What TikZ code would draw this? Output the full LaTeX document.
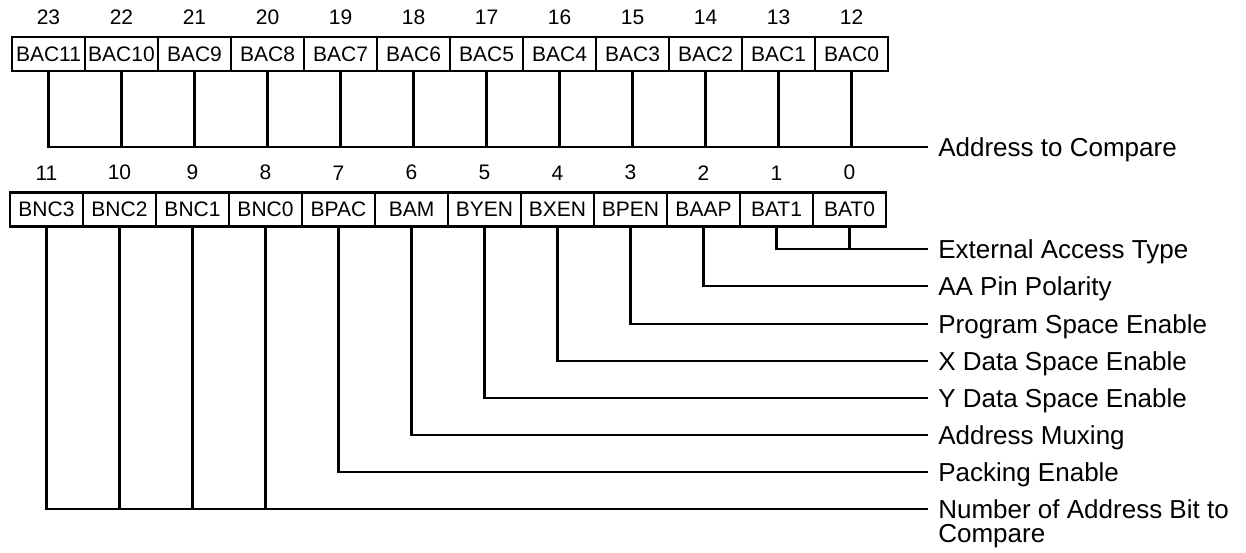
\documentclass[tikz,border=0pt]{standalone}
\usepackage{fontspec}
\setmainfont{Liberation Sans}
\usetikzlibrary{positioning}

\begin{document}
\begin{tikzpicture}[x=0.5pt, y=-0.5pt, line width=1.3pt, label distance=5.5pt,
		bitbox/.style={rectangle, draw, outer sep=0pt, inner sep=0pt, minimum width=36.5pt, minimum height=17pt, font=\fontsize{10.5}{12}\selectfont},
		bitnum/.style={inner sep=0pt, font=\fontsize{10.5}{12}\selectfont},
		sidelabel/.style={anchor=west, inner xsep=4.5pt, inner ysep=0pt, text height=9.4pt, text depth=0pt, font=\fontsize{13}{15}\selectfont}]
		\useasboundingbox (0,0) rectangle (1246,552);
		\node (b23) [bitbox, label={[bitnum]above:23}] at (48.5,54) {BAC11};
		\node (b22) [bitbox, right=0pt of b23, label={[bitnum]above:22}] {BAC10};
		\node (b21) [bitbox, right=0pt of b22, label={[bitnum]above:21}] {BAC9};
		\node (b20) [bitbox, right=0pt of b21, label={[bitnum]above:20}] {BAC8};
		\node (b19) [bitbox, right=0pt of b20, label={[bitnum]above:19}] {BAC7};
		\node (b18) [bitbox, right=0pt of b19, label={[bitnum]above:18}] {BAC6};
		\node (b17) [bitbox, right=0pt of b18, label={[bitnum]above:17}] {BAC5};
		\node (b16) [bitbox, right=0pt of b17, label={[bitnum]above:16}] {BAC4};
		\node (b15) [bitbox, right=0pt of b16, label={[bitnum]above:15}] {BAC3};
		\node (b14) [bitbox, right=0pt of b15, label={[bitnum]above:14}] {BAC2};
		\node (b13) [bitbox, right=0pt of b14, label={[bitnum]above:13}] {BAC1};
		\node (b12) [bitbox, right=0pt of b13, label={[bitnum]above:12}] {BAC0};
		
		\node (b11) [bitbox, label={[bitnum]above:11}] at (46.5,209.5) {BNC3};
		\node (b10) [bitbox, right=0pt of b11, label={[bitnum]above:10}] {BNC2};
		\node (b9) [bitbox, right=0pt of b10, label={[bitnum]above:9}] {BNC1};
		\node (b8) [bitbox, right=0pt of b9, label={[bitnum]above:8}] {BNC0};
		\node (b7) [bitbox, right=0pt of b8, label={[bitnum]above:7}] {BPAC};
		\node (b6) [bitbox, right=0pt of b7, label={[bitnum]above:6}] {BAM};
		\node (b5) [bitbox, right=0pt of b6, label={[bitnum]above:5}] {BYEN};
		\node (b4) [bitbox, right=0pt of b5, label={[bitnum]above:4}] {BXEN};
		\node (b3) [bitbox, right=0pt of b4, label={[bitnum]above:3}] {BPEN};
		\node (b2) [bitbox, right=0pt of b3, label={[bitnum]above:2}] {BAAP};
		\node (b1) [bitbox, right=0pt of b2, label={[bitnum]above:1}] {BAT1};
		\node (b0) [bitbox, right=0pt of b1, label={[bitnum]above:0}] {BAT0};
		
		\node (acmp) [sidelabel] at (928,147) {Address to Compare};
		\node (eat) [sidelabel] at (928,249) {External Access Type};
		\node (aap) [sidelabel] at (928,286) {AA Pin Polarity};
		\node (pse) [sidelabel] at (928,324) {Program Space Enable};
		\node (xse) [sidelabel] at (928,361) {X Data Space Enable};
		\node (yse) [sidelabel] at (928,398) {Y Data Space Enable};
		\node (amx) [sidelabel] at (928,435) {Address Muxing};
		\node (pke) [sidelabel] at (928,472) {Packing Enable};
		\node (nab) [sidelabel] at (928,509) {Number of Address Bit to};
		\node (nab2) [sidelabel] at (928,533) {Compare};
		
		\draw (b23.south) |- (acmp.west);
		\draw (b22.south) -- (b22.south |- acmp.west);
		\draw (b21.south) -- (b21.south |- acmp.west);
		\draw (b20.south) -- (b20.south |- acmp.west);
		\draw (b19.south) -- (b19.south |- acmp.west);
		\draw (b18.south) -- (b18.south |- acmp.west);
		\draw (b17.south) -- (b17.south |- acmp.west);
		\draw (b16.south) -- (b16.south |- acmp.west);
		\draw (b15.south) -- (b15.south |- acmp.west);
		\draw (b14.south) -- (b14.south |- acmp.west);
		\draw (b13.south) -- (b13.south |- acmp.west);
		\draw (b12.south) -- (b12.south |- acmp.west);
		
		\draw (b1.south) |- (eat.west);
		\draw (b0.south) -- (b0.south |- eat.west);
		\draw (b2.south) |- (aap.west);
		\draw (b3.south) |- (pse.west);
		\draw (b4.south) |- (xse.west);
		\draw (b5.south) |- (yse.west);
		\draw (b6.south) |- (amx.west);
		\draw (b7.south) |- (pke.west);
		\draw (b11.south) |- (nab.west);
		\draw (b10.south) -- (b10.south |- nab.west);
		\draw (b9.south) -- (b9.south |- nab.west);
		\draw (b8.south) -- (b8.south |- nab.west);
	\end{tikzpicture}
\end{document}
